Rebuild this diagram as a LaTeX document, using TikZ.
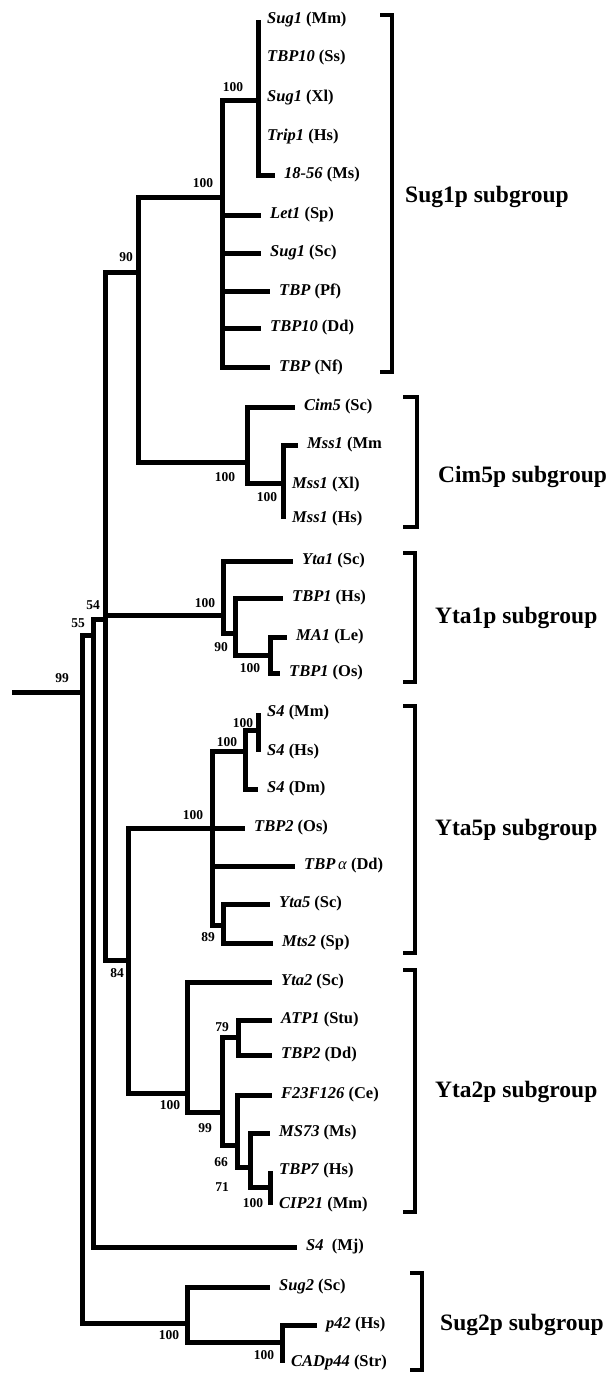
\documentclass[tikz,border=0pt]{standalone}
\usepackage{fontspec}
\setmainfont{Liberation Serif}
\usepackage{tikz}
\usetikzlibrary{positioning}

\begin{document}
\begin{tikzpicture}[x=1pt,y=-1pt,
    br/.style={line width=5pt,line join=miter},
    brk/.style={line width=4.5pt,line join=miter},
    leaf/.style={anchor=west,inner xsep=9pt,inner ysep=0pt,font=\fontsize{16.5}{18}\selectfont\bfseries},
    bs/.style={inner sep=0pt,font=\fontsize{13.5}{15}\selectfont\bfseries},
    grp/.style={inner sep=0pt,font=\fontsize{23.5}{26}\selectfont\bfseries}]
  \useasboundingbox (0,0) rectangle (608,1374);

  % inner nodes of the tree
  \coordinate (root) at (12,692);
  \coordinate (n99) at (82,692);
  \coordinate (n55) at (93,635);
  \coordinate (n54) at (105,619);
  \coordinate (n90) at (138,272);
  \coordinate (sugA) at (222,197);
  \coordinate (sugB) at (258,100);
  \coordinate (cimA) at (247,462);
  \coordinate (cimB) at (283,483);
  \coordinate (ytaA) at (223,615);
  \coordinate (ytaB) at (235,633);
  \coordinate (ytaC) at (270,655);
  \coordinate (n84) at (128,960);
  \coordinate (fiveA) at (212,828);
  \coordinate (fiveB) at (245,751);
  \coordinate (fiveC) at (258,730);
  \coordinate (fiveD) at (223,925);
  \coordinate (twoA) at (187,1093);
  \coordinate (twoB) at (222,1112);
  \coordinate (twoC) at (238,1037);
  \coordinate (twoD) at (237,1145);
  \coordinate (twoE) at (250,1167);
  \coordinate (twoF) at (270,1187);
  \coordinate (sgA) at (187,1323);
  \coordinate (sgB) at (282,1342);

  % leaves
  \node[leaf] (sugMm) at (258,20) {\textit{Sug1} (Mm)};
  \node[leaf] (tbpSs) at (258,58) {\textit{TBP10} (Ss)};
  \node[leaf] (sugXl) at (258,98) {\textit{Sug1} (Xl)};
  \node[leaf] (tripHs) at (258,137) {\textit{Trip1} (Hs)};
  \node[leaf] (msMs) at (275,175) {\textit{18-56} (Ms)};
  \node[leaf] (letSp) at (261,215) {\textit{Let1} (Sp)};
  \node[leaf] (sugSc) at (261,253) {\textit{Sug1} (Sc)};
  \node[leaf] (tbpPf) at (270,291) {\textit{TBP} (Pf)};
  \node[leaf] (tbpDd) at (261,328) {\textit{TBP10} (Dd)};
  \node[leaf] (tbpNf) at (270,367) {\textit{TBP} (Nf)};
  \node[leaf] (cimSc) at (295,407) {\textit{Cim5} (Sc)};
  \node[leaf] (mssMm) at (298,445) {\textit{Mss1} (Mm};
  \node[leaf] (mssXl) at (283,485) {\textit{Mss1} (Xl)};
  \node[leaf] (mssHs) at (283,519) {\textit{Mss1} (Hs)};
  \node[leaf] (yta1Sc) at (293,561) {\textit{Yta1} (Sc)};
  \node[leaf] (tbp1Hs) at (283,598) {\textit{TBP1} (Hs)};
  \node[leaf] (ma1Le) at (287,637) {\textit{MA1} (Le)};
  \node[leaf] (tbp1Os) at (280,673) {\textit{TBP1} (Os)};
  \node[leaf] (s4Mm) at (258,713) {\textit{S4} (Mm)};
  \node[leaf] (s4Hs) at (258,752) {\textit{S4} (Hs)};
  \node[leaf] (s4Dm) at (258,789) {\textit{S4} (Dm)};
  \node[leaf] (tbp2Os) at (245,828) {\textit{TBP2} (Os)};
  \node[leaf] (tbpaDd) at (295,866) {\textit{TBP}{\mdseries\itshape\,α} (Dd)};
  \node[leaf] (yta5Sc) at (270,904) {\textit{Yta5} (Sc)};
  \node[leaf] (mts2Sp) at (273,943) {\textit{Mts2} (Sp)};
  \node[leaf] (yta2Sc) at (272,982) {\textit{Yta2} (Sc)};
  \node[leaf] (atp1Stu) at (272,1020) {\textit{ATP1} (Stu)};
  \node[leaf] (tbp2Dd) at (272,1055) {\textit{TBP2} (Dd)};
  \node[leaf] (f23Ce) at (272,1095) {\textit{F23F126} (Ce)};
  \node[leaf] (ms73Ms) at (270,1133) {\textit{MS73} (Ms)};
  \node[leaf] (tbp7Hs) at (270,1171) {\textit{TBP7} (Hs)};
  \node[leaf] (cip21Mm) at (270,1205) {\textit{CIP21} (Mm)};
  \node[leaf] (s4Mj) at (297,1247) {\textit{S4}\enspace(Mj)};
  \node[leaf] (sug2Sc) at (270,1287) {\textit{Sug2} (Sc)};
  \node[leaf] (p42Hs) at (317,1325) {\textit{p42} (Hs)};
  \node[leaf] (cadStr) at (282,1363) {\textit{CADp44} (Str)};

  % branches
  \draw[br] (root) -- (n99);
  \draw[br] (n99) |- (n55);
  \draw[br] (n99) |- (sgA);
  \draw[br] (n55) |- (n54);
  \draw[br] (n55) |- (s4Mj.west);
  \draw[br] (n54) |- (n90);
  \draw[br] (n54) |- (ytaA);
  \draw[br] (n54) |- (n84);
  \draw[br] (n90) |- (sugA);
  \draw[br] (n90) |- (cimA);
  \draw[br] (sugA) |- (sugB);
  \draw[br] (sugA) |- (letSp.west);
  \draw[br] (sugA) |- (sugSc.west);
  \draw[br] (sugA) |- (tbpPf.west);
  \draw[br] (sugA) |- (tbpDd.west);
  \draw[br] (sugA) |- (tbpNf.west);
  \draw[br] (sugB) -- (sugMm.west);
  \draw[br] (sugB) |- (msMs.west);
  \draw[br] (cimA) |- (cimSc.west);
  \draw[br] (cimA) |- (cimB);
  \draw[br] (cimB) |- (mssMm.west);
  \draw[br] (cimB) -- (mssHs.west);
  \draw[br] (ytaA) |- (yta1Sc.west);
  \draw[br] (ytaA) |- (ytaB);
  \draw[br] (ytaB) |- (tbp1Hs.west);
  \draw[br] (ytaB) |- (ytaC);
  \draw[br] (ytaC) |- (ma1Le.west);
  \draw[br] (ytaC) |- (tbp1Os.west);
  \draw[br] (n84) |- (fiveA);
  \draw[br] (n84) |- (twoA);
  \draw[br] (fiveA) |- (fiveB);
  \draw[br] (fiveA) -- (tbp2Os.west);
  \draw[br] (fiveA) |- (tbpaDd.west);
  \draw[br] (fiveA) |- (fiveD);
  \draw[br] (fiveB) |- (fiveC);
  \draw[br] (fiveB) |- (s4Dm.west);
  \draw[br] (fiveC) -- (s4Mm.west);
  \draw[br] (fiveC) -- (s4Hs.west);
  \draw[br] (fiveD) |- (yta5Sc.west);
  \draw[br] (fiveD) |- (mts2Sp.west);
  \draw[br] (twoA) |- (yta2Sc.west);
  \draw[br] (twoA) |- (twoB);
  \draw[br] (twoB) |- (twoC);
  \draw[br] (twoB) |- (twoD);
  \draw[br] (twoC) |- (atp1Stu.west);
  \draw[br] (twoC) |- (tbp2Dd.west);
  \draw[br] (twoD) |- (f23Ce.west);
  \draw[br] (twoD) |- (twoE);
  \draw[br] (twoE) |- (ms73Ms.west);
  \draw[br] (twoE) |- (twoF);
  \draw[br] (twoF) -- (tbp7Hs.west);
  \draw[br] (twoF) -- (cip21Mm.west);
  \draw[br] (sgA) |- (sug2Sc.west);
  \draw[br] (sgA) |- (sgB);
  \draw[br] (sgB) |- (p42Hs.west);
  \draw[br] (sgB) -- (cadStr.west);

  % bootstrap values
  \node[bs] (b99) at (62,678) {99};
  \node[bs] (b55) at (78,623) {55};
  \node[bs] (b54) at (93,605) {54};
  \node[bs] (b90) at (126,257) {90};
  \node[bs] (bSugA) at (203,183) {100};
  \node[bs] (bSugB) at (233,87) {100};
  \node[bs] (bCimA) at (225,477) {100};
  \node[bs] (bCimB) at (267,497) {100};
  \node[bs] (bYtaA) at (205,603) {100};
  \node[bs] (bYtaB) at (221,647) {90};
  \node[bs] (bYtaC) at (250,668) {100};
  \node[bs] (bFiveA) at (193,815) {100};
  \node[bs] (bFiveB) at (227,742) {100};
  \node[bs] (bFiveC) at (243,723) {100};
  \node[bs] (bFiveD) at (208,937) {89};
  \node[bs] (b84) at (117,973) {84};
  \node[bs] (bTwoA) at (170,1105) {100};
  \node[bs] (bTwoB) at (205,1128) {99};
  \node[bs] (bTwoC) at (222,1027) {79};
  \node[bs] (bTwoD) at (221,1162) {66};
  \node[bs] (bTwoE) at (222,1187) {71};
  \node[bs] (bTwoF) at (253,1203) {100};
  \node[bs] (bSgA) at (169,1335) {100};
  \node[bs] (bSgB) at (264,1355) {100};

  % subgroup brackets
  \coordinate (kSug1) at (392,197);
  \coordinate (kCim5) at (417,477);
  \coordinate (kYta1) at (415,618);
  \coordinate (kYta5) at (415,830);
  \coordinate (kYta2) at (415,1092);
  \coordinate (kSug2) at (422,1325);
  \draw[brk] (380,15) -| (kSug1) |- (380,372);
  \draw[brk] (403,397) -| (kCim5) |- (403,527);
  \draw[brk] (403,553) -| (kYta1) |- (403,682);
  \draw[brk] (403,706) -| (kYta5) |- (403,953);
  \draw[brk] (403,970) -| (kYta2) |- (403,1212);
  \draw[brk] (410,1273) -| (kSug2) |- (410,1370);
  \node[grp,right=13pt of kSug1] (gSug1) {Sug1p subgroup};
  \node[grp,right=21pt of kCim5] (gCim5) {Cim5p subgroup};
  \node[grp,right=20pt of kYta1] (gYta1) {Yta1p subgroup};
  \node[grp,right=20pt of kYta5] (gYta5) {Yta5p subgroup};
  \node[grp,right=20pt of kYta2] (gYta2) {Yta2p subgroup};
  \node[grp,right=18pt of kSug2] (gSug2) {Sug2p subgroup};
\end{tikzpicture}
\end{document}
